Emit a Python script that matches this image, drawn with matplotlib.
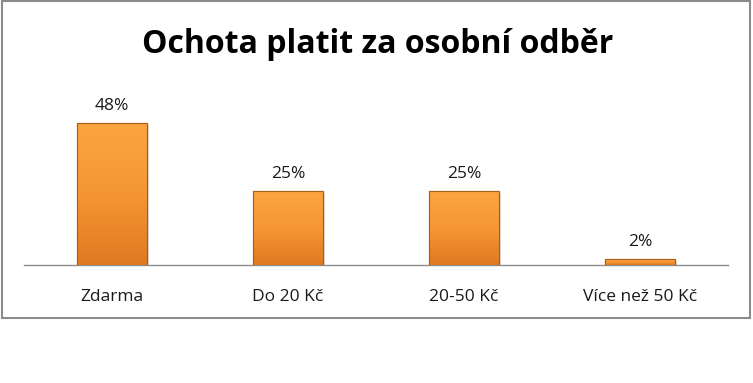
import matplotlib
matplotlib.use("Agg")
import matplotlib.pyplot as plt
import numpy as np
from matplotlib.patches import Rectangle
from matplotlib.colors import LinearSegmentedColormap

categories = ["Zdarma", "Do 20 Kč", "20-50 Kč", "Více než 50 Kč"]
values = [48, 25, 25, 2]
labels = ["48%", "25%", "25%", "2%"]
title = "Ochota platit za osobní odběr"

W, H = 753, 383
fig = plt.figure(figsize=(W/100, H/100), dpi=100)
fig.patch.set_facecolor("white")

# outer border
fig.add_artist(Rectangle((1.5/W, 1 - 318/H), 748.5/W, 317/H, transform=fig.transFigure,
                         fill=False, edgecolor="#8c8c8c", linewidth=1.5))

ax = fig.add_axes([24/W, 1 - 265/H, (728-24)/W, (265-87.4)/H])
for s in ["top", "right", "left"]:
    ax.spines[s].set_visible(False)
ax.spines["bottom"].set_color("#8c8c8c")
ax.spines["bottom"].set_linewidth(1.0)
ax.set_yticks([])
ax.set_xticks(range(len(categories)))
ax.set_xticklabels(categories, fontsize=12.5, family=["Open Sans", "DejaVu Sans"], color="#1a1a1a")
ax.tick_params(axis="x", length=0, pad=17)

cmap = LinearSegmentedColormap.from_list("o", ["#E07A22", "#F59634", "#FBA540"])
bars = ax.bar(range(len(categories)), values, width=0.4, color="#F39432",
              edgecolor="#A85E1A", linewidth=0.8, zorder=3)
for b in bars:
    x0, y0 = b.get_x(), b.get_y()
    w, h = b.get_width(), b.get_height()
    ax.add_patch(Rectangle((x0 + 0.01, y0 - 0.6), w, h, facecolor="#000000", alpha=0.12,
                           edgecolor="none", zorder=2))
    grad = np.linspace(0, 1, 100).reshape(-1, 1)
    im = ax.imshow(grad, extent=(x0, x0 + w, y0, y0 + h), origin="lower", cmap=cmap,
                   aspect="auto", zorder=3.5)
    im.set_clip_path(b)
    ax.add_patch(Rectangle((x0, y0), w, h, fill=False, edgecolor="#A85E1A", linewidth=0.8, zorder=4))
ax.set_xlim(-0.5, len(categories) - 0.5)
ax.set_ylim(0, 60)

for i, (v, t) in enumerate(zip(values, labels)):
    ax.annotate(t, (i, v), xytext=(0, 9.4), textcoords="offset points", ha="center", va="baseline",
                fontsize=12.5, family=["Open Sans", "DejaVu Sans"], color="#1a1a1a")

fig.text(378/W, 1 - 53/H, title, ha="center", va="baseline", fontsize=23, fontweight="bold",
         family=["Open Sans", "DejaVu Sans"], color="black")

fig.savefig("out.png", dpi=100)
